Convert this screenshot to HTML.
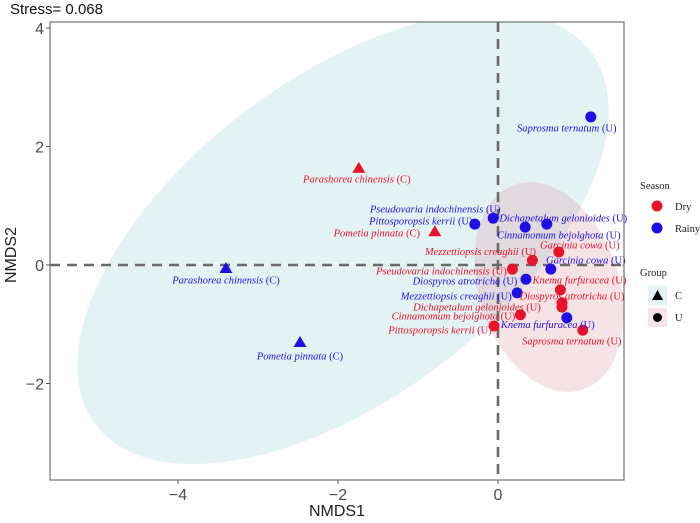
<!DOCTYPE html>
<html><head><meta charset="utf-8"><style>
html,body{margin:0;padding:0;background:#fff;width:700px;height:523px;overflow:hidden;}
svg{display:block;}
.lab{font-family:"Liberation Serif",serif;font-size:10.5px;}
.ax{font-family:"Liberation Sans",sans-serif;}
</style></head><body>
<svg id="chart" width="700" height="523" viewBox="0 0 700 523">
<defs><clipPath id="clip"><rect x="50" y="22" width="574" height="458"/></clipPath></defs>
<text x="10" y="14" class="ax" font-size="15" fill="#111">Stress= 0.068</text>
<g clip-path="url(#clip)">
<path id="ellC" fill="#e3f2f3"/>
<path id="ellU" fill="#d88a98" fill-opacity="0.24"/>
</g>
<g id="dash"></g>
<g id="marks"></g>
<g id="labels"></g>
<rect x="50" y="22" width="574" height="458" fill="none" stroke="#555" stroke-width="1"/>
<g id="axes"></g>
<text x="337" y="516" class="ax" font-size="16" fill="#222" text-anchor="middle">NMDS1</text>
<text x="16" y="255" class="ax" font-size="16" fill="#222" text-anchor="middle" transform="rotate(-90 16 255)">NMDS2</text>
<g>
<text x="640" y="189" class="lab" font-size="11" fill="#222">Season</text>
<circle cx="657" cy="206" r="5.5" fill="#e8132a"/>
<text x="675" y="210" class="lab" fill="#222">Dry</text>
<circle cx="657" cy="228" r="5.5" fill="#1f0fe6"/>
<text x="675" y="232" class="lab" fill="#222">Rainy</text>
</g>
<g>
<text x="640" y="276" class="lab" font-size="11" fill="#222">Group</text>
<rect x="648" y="286" width="19" height="19" fill="#e3f2f3"/>
<polygon points="657.5,290 663,300 652,300" fill="#000"/>
<text x="675" y="299" class="lab" fill="#222">C</text>
<rect x="648" y="308" width="19" height="19" fill="#f7e5e8"/>
<circle cx="657.5" cy="317.5" r="4.5" fill="#000"/>
<text x="675" y="321" class="lab" fill="#222">U</text>
</g>
</svg>
<script>
const species = ["Saprosma ternatum","Pseudovaria indochinensis","Pittosporopsis kerrii","Dichapetalum gelonioides","Cinnamomum bejolghota","Garcinia cowa","Diospyros atrotricha","Mezzettiopsis creaghii","Knema furfuracea","Parashorea chinensis","Pometia pinnata"];
const groups = ["U","U","U","U","U","U","U","U","U","C","C"];
const rainyX = [1.16,-0.06,-0.29,0.34,0.61,0.66,0.35,0.24,0.86,-3.40,-2.475];
const rainyY = [2.50,0.79,0.69,0.64,0.69,-0.07,-0.24,-0.47,-0.89,-0.05,-1.30];
const dryX = [1.06,0.18,-0.05,0.80,0.28,0.76,0.80,0.43,0.78,-1.74,-0.79];
const dryY = [-1.10,-0.07,-1.03,-0.71,-0.84,0.22,-0.64,0.08,-0.42,1.64,0.57];
// label offsets (px) from point, styling only
const rainyLabOff = [[-24,11],[-58,-9],[-54,-3],[38,-9],[12,11],[35,-9],[-61,2],[-61,3],[-19,7],[0,12],[0,14]];
const dryLabOff = [[-11,11],[-71,2],[-54,4],[-85,0],[-67,1],[21,-7],[10,-7],[-52,-9],[19,-10],[-2,11],[-58,2]];
const xTicks = [-4,-2,0];
const yTicks = [4,2,0,-2];

const X = v => 498 + v*80;
const Y = v => 265 - v*59.25;
const NS = "http://www.w3.org/2000/svg";
function mk(tag, attrs, parent){const e=document.createElementNS(NS,tag);for(const k in attrs)e.setAttribute(k,attrs[k]);parent.appendChild(e);return e;}

function ellPath(cx,cy,rx,ry,deg){
  const a = deg*Math.PI/180, ca=Math.cos(a), sa=Math.sin(a);
  let d='';
  for(let k=0;k<=120;k++){
    const t=k/120*2*Math.PI, ex=rx*Math.cos(t), ey=ry*Math.sin(t);
    let px=cx+ex*ca-ey*sa, py=cy+ex*sa+ey*ca;
    px=Math.max(48,Math.min(626,px)); py=Math.max(20,Math.min(482,py));
    d+=(k?'L':'M')+px.toFixed(1)+','+py.toFixed(1);
  }
  return d+'Z';
}
document.getElementById('ellC').setAttribute('d', ellPath(343,238,310,160,-37));
document.getElementById('ellU').setAttribute('d', ellPath(549,287,70,108,-18));

const dash = document.getElementById('dash');
let l1 = mk('line',{x1:X(0),x2:X(0),y1:22,y2:480,stroke:'#6a6a6a','stroke-width':2.6,'stroke-dasharray':'10 7'},dash);


let l2 = mk('line',{x1:50,x2:624,y1:Y(0),y2:Y(0),stroke:'#6a6a6a','stroke-width':2.6,'stroke-dasharray':'10 7'},dash);



const axes = document.getElementById('axes');
xTicks.forEach(t=>{
  const tk = mk('line',{x1:X(t),x2:X(t),y1:480,y2:484,stroke:'#555'},axes);
  
  
  const tx = mk('text',{x:X(t),y:500,'text-anchor':'middle','font-size':16,fill:'#4d4d4d',class:'ax'},axes);
  tx.textContent = t<0 ? '\u2212'+Math.abs(t) : String(t);
  
  
});
yTicks.forEach(t=>{
  const tk = mk('line',{x1:46,x2:50,y1:Y(t),y2:Y(t),stroke:'#555'},axes);
  
  
  const tx = mk('text',{x:44,y:Y(t)+6,'text-anchor':'end','font-size':16,fill:'#4d4d4d',class:'ax'},axes);
  tx.textContent = t<0 ? '\u2212'+Math.abs(t) : String(t);
  
  
});

const marks = document.getElementById('marks');
const labels = document.getElementById('labels');
function drawSeries(xs, ys, offs, color, season){
  xs.forEach((xv,i)=>{
    const px = X(xv), py = Y(ys[i]);
    let m;
    if(groups[i]==='C'){
      m = mk('polygon',{points:`${px},${py-6} ${px+6.5},${py+5} ${px-6.5},${py+5}`,fill:color},marks);
    } else {
      m = mk('circle',{cx:px,cy:py,r:5.5,fill:color},marks);
    }
    
    
    const t = mk('text',{x:px+offs[i][0],y:py+offs[i][1]+3.5,'text-anchor':'middle',fill:color,class:'lab'},labels);
    const s1 = mk('tspan',{'font-style':'italic'},t); s1.textContent = species[i];
    const s2 = mk('tspan',{},t); s2.textContent = ' ('+groups[i]+')';
    
    
  });
}
drawSeries(rainyX, rainyY, rainyLabOff, '#1f0fe6', 'rainy');
drawSeries(dryX, dryY, dryLabOff, '#e8132a', 'dry');
</script>
</body></html>
